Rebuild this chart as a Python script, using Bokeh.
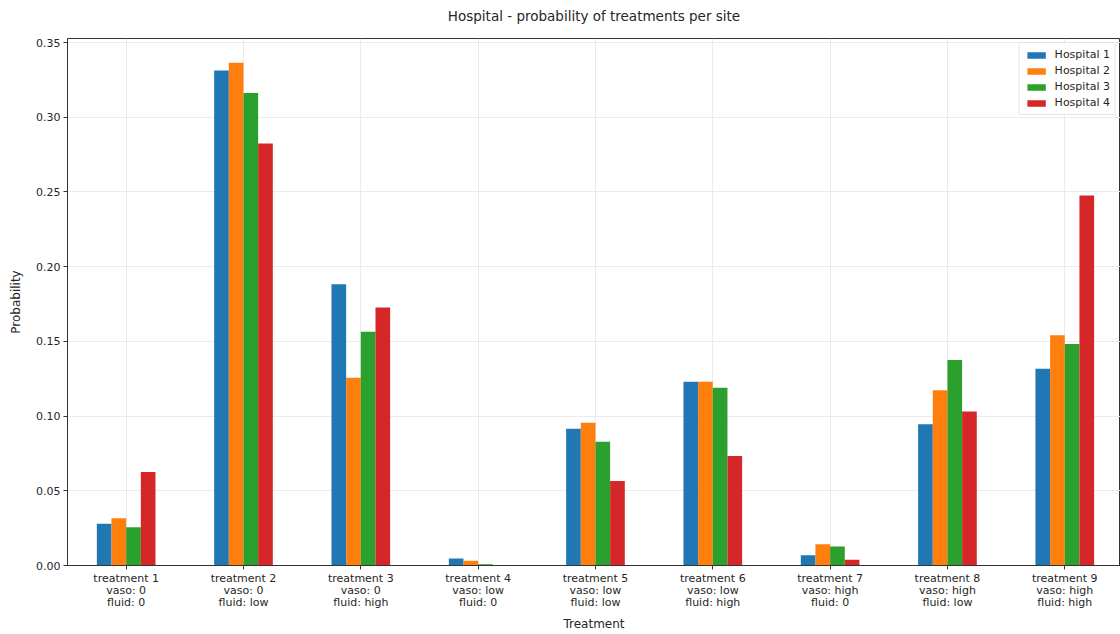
from bokeh.plotting import figure
from bokeh.models import ColumnDataSource, FixedTicker, NumeralTickFormatter, Range1d, Legend, LegendItem, Title
from bokeh.embed import file_html
from bokeh.resources import INLINE

# Treatment categories (drug/fluid combos) and per-hospital probabilities
treatments = ["treatment 1", "treatment 2", "treatment 3", "treatment 4", "treatment 5",
              "treatment 6", "treatment 7", "treatment 8", "treatment 9"]
vaso = ["0", "0", "0", "low", "low", "low", "high", "high", "high"]
fluid = ["0", "low", "high", "0", "low", "high", "0", "low", "high"]

hospitals = ["Hospital 1", "Hospital 2", "Hospital 3", "Hospital 4"]
hospital_1 = [0.0279, 0.3313, 0.1882, 0.0047, 0.0915, 0.1229, 0.0069, 0.0946, 0.1316]
hospital_2 = [0.0316, 0.3365, 0.1256, 0.0031, 0.0955, 0.1229, 0.0143, 0.1173, 0.1541]
hospital_3 = [0.0256, 0.3162, 0.1565, 0.0009, 0.0828, 0.1189, 0.0127, 0.1376, 0.1483]
hospital_4 = [0.0626, 0.2824, 0.1726, 0.0000, 0.0566, 0.0733, 0.0038, 0.1031, 0.2476]

y_ticks = [0.00, 0.05, 0.10, 0.15, 0.20, 0.25, 0.30, 0.35]

colors = ["#1f77b4", "#ff7f0e", "#2ca02c", "#d62728"]
series = [hospital_1, hospital_2, hospital_3, hospital_4]

FONT = "DejaVu Sans"
TEXT = "#262626"

p = figure(width=1120, height=634, output_backend="svg", toolbar_location=None,
           x_range=Range1d(-0.5, 8.475), y_range=Range1d(0, 0.3527),
           min_border_left=67, min_border_right=0, min_border_top=38, min_border_bottom=68,
           title=None)

# blank spacer between the plot frame and the title, then the title itself
p.add_layout(Title(text=" ", text_font_size="6px", standoff=5), "above")
p.add_layout(Title(text="Hospital - probability of treatments per site",
                   align="center", vertical_align="bottom", standoff=4,
                   text_font=FONT, text_font_size="13.5px", text_font_style="normal",
                   text_color=TEXT), "above")

idx = list(range(len(treatments)))
bar_w = 0.125
items = []
for k, (name, vals, col) in enumerate(zip(hospitals, series, colors)):
    offset = (k - 1.5) * bar_w
    src = ColumnDataSource(dict(x=[i + offset for i in idx], top=vals))
    r = p.vbar(x="x", top="top", width=bar_w, bottom=0, source=src,
               fill_color=col, line_color=None)
    items.append(LegendItem(label=name, renderers=[r]))

legend = Legend(items=items, location="top_right",
                label_text_font=FONT, label_text_font_size="11px", label_text_color=TEXT,
                glyph_width=23, glyph_height=8, spacing=3, padding=5, margin=4,
                label_standoff=7, label_height=12,
                border_line_color="#cccccc", border_line_width=1,
                background_fill_alpha=0.9)
p.add_layout(legend)

# x axis: multi-line labels per treatment
p.xaxis.ticker = FixedTicker(ticks=idx)
p.xaxis.major_label_overrides = {i: f"{t}\nvaso: {v}\nfluid: {f}"
                                 for i, t, v, f in zip(idx, treatments, vaso, fluid)}
p.xaxis.axis_label = "Treatment"
p.yaxis.ticker = FixedTicker(ticks=y_ticks)
p.yaxis.formatter = NumeralTickFormatter(format="0.00")
p.yaxis.axis_label = "Probability"

for ax in (p.xaxis[0], p.yaxis[0]):
    ax.major_label_text_font = FONT
    ax.major_label_text_font_size = "11px"
    ax.major_label_text_color = TEXT
    ax.axis_label_text_font = FONT
    ax.axis_label_text_font_size = "12px"
    ax.axis_label_text_font_style = "normal"
    ax.axis_label_text_color = TEXT
    ax.axis_line_color = "#333333"
    ax.major_tick_line_color = "#333333"
    ax.major_tick_out = 4
    ax.major_tick_in = 0
    ax.minor_tick_line_color = None
    ax.major_label_standoff = 3

p.xaxis.major_label_standoff = 2
p.xaxis.major_label_text_line_height = 0.95
p.xaxis.axis_label_standoff = 5
p.yaxis.axis_label_standoff = 10

p.xgrid.ticker = FixedTicker(ticks=idx)
p.ygrid.ticker = FixedTicker(ticks=y_ticks)
p.grid.grid_line_color = "#ebebeb"
p.grid.grid_line_width = 1

p.outline_line_color = "#333333"
p.outline_line_width = 1
p.background_fill_color = "white"
p.border_fill_color = "white"

open("out.html", "w").write(file_html(p, INLINE))
